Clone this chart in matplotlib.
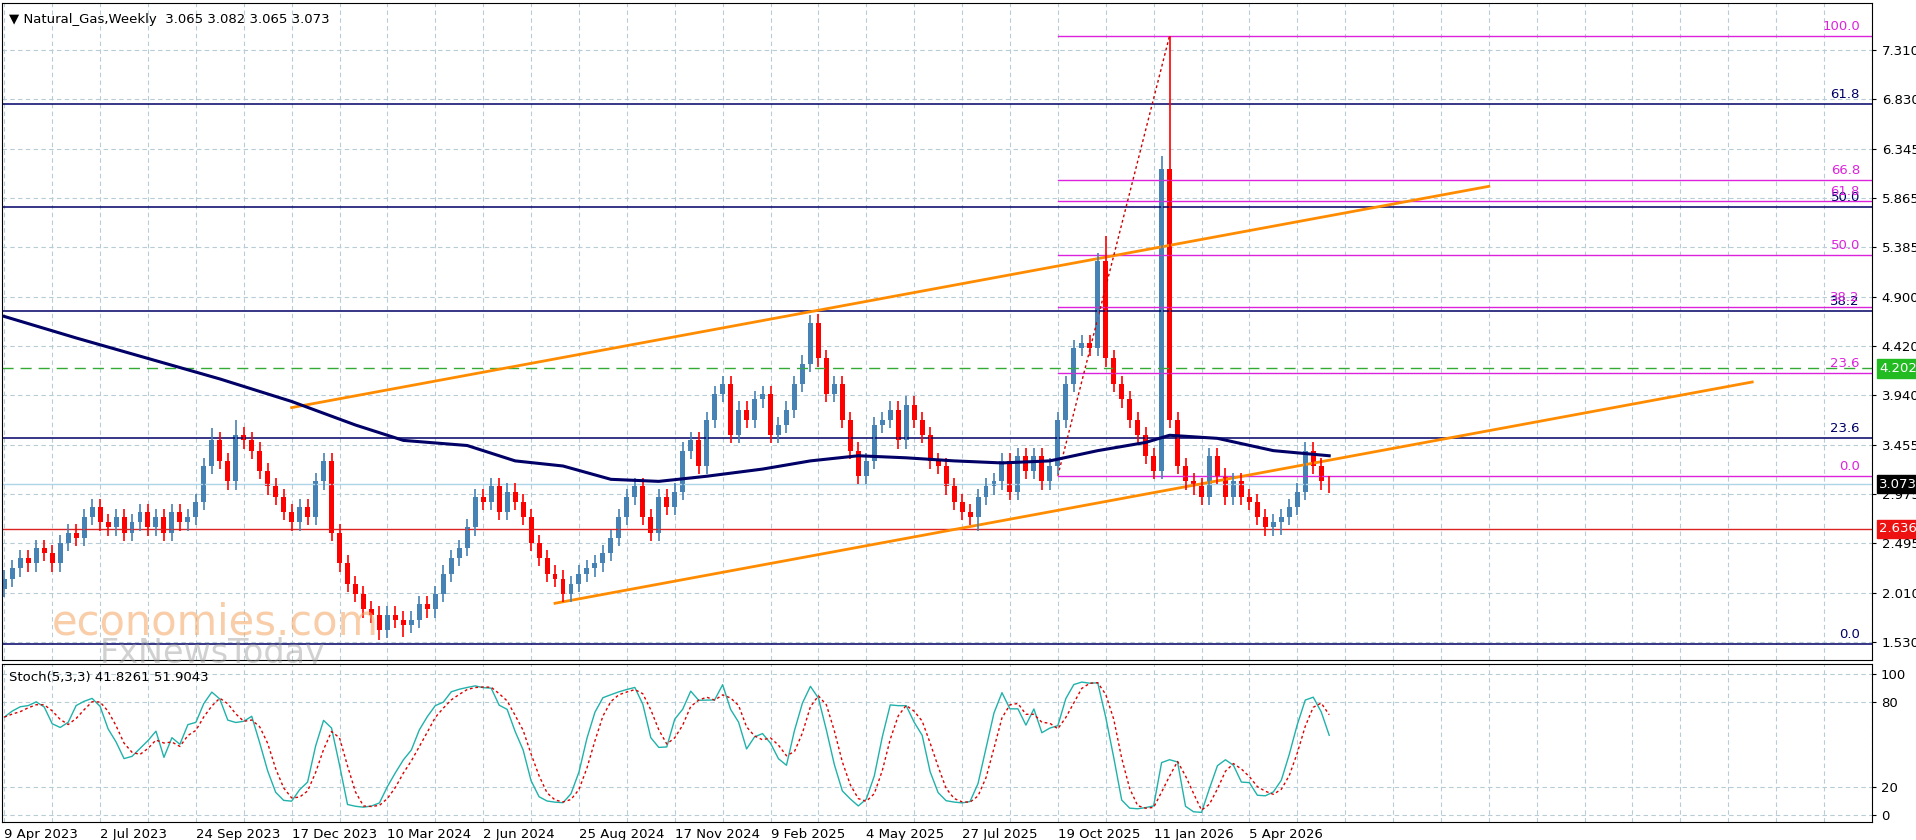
import matplotlib
matplotlib.use("Agg")
import matplotlib.pyplot as plt
import numpy as np
import pandas as pd

# weekly closes
closes = [
    2.15, 2.25, 2.35, 2.30, 2.45, 2.40, 2.30, 2.50, 2.60, 2.55,
    2.75, 2.85, 2.70, 2.65, 2.75, 2.60, 2.70, 2.80,
    2.65, 2.75, 2.60, 2.80, 2.70, 2.75,
    2.90, 3.25, 3.50, 3.30, 3.10, 3.55, 3.50,
    3.40, 3.20, 3.05, 2.95, 2.80, 2.70, 2.85, 2.75,
    3.10, 3.30, 2.60, 2.30, 2.10, 2.00, 1.85, 1.80,
    1.65, 1.80, 1.75, 1.70, 1.75,
    1.90, 1.85, 2.00, 2.20, 2.35, 2.45, 2.65,
    2.95, 2.90, 3.05, 2.80, 3.00, 2.90, 2.75,
    2.50, 2.35, 2.20, 2.15, 2.00, 2.10,
    2.20, 2.25, 2.30, 2.40, 2.55, 2.75,
    2.95, 3.05, 2.75, 2.60, 2.95, 2.85, 3.00,
    3.40, 3.50, 3.25, 3.70, 3.95, 4.05, 3.55, 3.80,
    3.70, 3.90, 3.95, 3.55, 3.65, 3.80, 4.05, 4.25,
    4.65, 4.30, 3.95, 4.05, 3.70,
    3.40, 3.15, 3.30, 3.65, 3.70,
    3.80, 3.50, 3.85, 3.70, 3.55, 3.30, 3.25,
    3.05, 2.90, 2.80, 2.75, 2.95,
    3.05, 3.10, 3.30, 3.00, 3.35, 3.20,
    3.35, 3.10, 3.25,
    3.70, 4.05, 4.40, 4.45, 4.40, 5.25,
    4.30, 4.05, 3.90, 3.70, 3.55, 3.35, 3.20,
    6.15, 3.70,
    3.25, 3.10, 3.05, 2.95, 3.35, 3.15, 2.95, 3.10, 2.95, 2.90,
    2.75, 2.65, 2.70, 2.75, 2.85, 3.00, 3.40, 3.25, 3.10, 3.065,
]
first_open = 2.05
last_open = 3.073
wick = 0.08
high_override = {146: 7.45, 145: 6.28, 138: 5.50, 101: 4.72, 29: 3.70, 26: 3.62}
low_override = {47: 1.55, 50: 1.58, 122: 2.62, 160: 2.58}

# 52-week moving average, sampled off the chart (bar index, value)
ma_idx = [0, 9, 18, 27, 36, 44, 50, 58, 64, 70, 76, 82, 88, 95, 101, 107, 113,
          119, 125, 131, 137, 143, 146, 152, 159, 166]
ma_val = [4.71, 4.50, 4.30, 4.10, 3.88, 3.65, 3.50, 3.45, 3.30, 3.25, 3.12, 3.10,
          3.15, 3.22, 3.30, 3.35, 3.33, 3.30, 3.28, 3.30, 3.40, 3.48, 3.55, 3.52,
          3.40, 3.35]

date_labels = ["9 Apr 2023", "2 Jul 2023", "24 Sep 2023", "17 Dec 2023", "10 Mar 2024",
               "2 Jun 2024", "25 Aug 2024", "17 Nov 2024", "9 Feb 2025", "4 May 2025",
               "27 Jul 2025", "19 Oct 2025", "11 Jan 2026", "5 Apr 2026"]
price_ticks = [7.310, 6.830, 6.345, 5.865, 5.385, 4.900, 4.420, 3.940, 3.455,
               2.975, 2.495, 2.010, 1.530]

navy_levels = [6.78, 5.78, 4.76, 3.52, 1.51]
navy_labels = ["61.8", "50.0", "38.2", "23.6", "0.0"]
fib_levels = [7.45, 6.04, 5.84, 5.31, 4.80, 4.16, 3.155]
fib_labels = ["100.0", "66.8", "61.8", "50.0", "38.2", "23.6", "0.0"]
fib_start = 132
upper_channel = ([36, 186], [3.82, 5.98])
lower_channel = ([69, 219], [1.91, 4.07])
support, resistance, current = 2.636, 4.202, 3.073
stoch_text = "Stoch(5,3,3) 41.8261 51.9043"

n = len(closes)
opens = [first_open] + closes[:-1]
opens[-1] = last_open
highs = [high_override.get(i, max(o, c) + wick) for i, (o, c) in enumerate(zip(opens, closes))]
lows = [low_override.get(i, min(o, c) - wick) for i, (o, c) in enumerate(zip(opens, closes))]

fig = plt.figure(figsize=(19.16, 8.4), dpi=100)
ax = fig.add_axes([0.001, 0.214, 0.976, 0.782])
ax2 = fig.add_axes([0.001, 0.021, 0.976, 0.188], sharex=ax)

navy = "#000066"
mag = "#DD22DD"

ax.set_yticks(price_ticks)
ax.grid(True, color="#B8CCD8", linestyle=(0, (4, 3)), linewidth=0.8)
ax.set_axisbelow(True)
ax.set_xticks(np.arange(0, 240, 6))
ax.tick_params(axis="x", length=0, labelbottom=False)
ax.yaxis.tick_right()
ax.tick_params(axis="y", length=3, labelsize=9.5, pad=4)
ax.set_yticklabels([f"{t:.3f}" for t in price_ticks])

for lvl in navy_levels:
    ax.axhline(lvl, color=navy, lw=1.1)
for lvl, lab in zip(navy_levels, navy_labels):
    ax.text(232.5, lvl + 0.03, lab, color=navy, ha="right", va="bottom", fontsize=9.5)
for lvl, lab in zip(fib_levels, fib_labels):
    ax.plot([fib_start, 240], [lvl, lvl], color=mag, lw=1.0)
    ax.text(232.5, lvl + 0.03, lab, color=mag, ha="right", va="bottom", fontsize=9.5)

ax.axhline(resistance, color="#33AA33", lw=1.0, linestyle=(0, (8, 5)))
ax.axhline(support, color="#DD2222", lw=1.0)
ax.axhline(current, color="#AED6E8", lw=1.0)

ax.plot(*upper_channel, color="#FF8C00", lw=2)
ax.plot(*lower_channel, color="#FF8C00", lw=2)
ax.plot([fib_start, 146], [fib_levels[-1], fib_levels[0]], color="#CC0000", lw=1, linestyle=(0, (2, 2)))

for i in range(n):
    o, c = opens[i], closes[i]
    col = "#4682B4" if c >= o else "#FF0000"
    ax.vlines(i, lows[i], highs[i], color=col, lw=1.2)
    body = max(abs(c - o), 0.012)
    ax.bar(i, body, bottom=min(o, c), width=0.62, color=col, edgecolor=col, lw=0)

ax.plot(ma_idx, ma_val, color=navy, lw=2.2)

ax.set_xlim(-0.3, 233)
ax.set_ylim(1.354, 7.766)

for lvl, bg in ((resistance, "#22BB22"), (current, "black"), (support, "#EE1111")):
    ax.text(1.004, lvl, f"{lvl:.3f}", transform=ax.get_yaxis_transform(), color="white",
            fontsize=9.5, va="center", ha="left",
            bbox=dict(boxstyle="square,pad=0.2", fc=bg, ec=bg))

ax.text(0.004, 0.985, "\u25bc Natural_Gas,Weekly  3.065 3.082 3.065 3.073", transform=ax.transAxes,
        fontsize=9.5, va="top", ha="left")
ax.text(6, 1.72, "economies.com", color="#F4A460", alpha=0.55, fontsize=30, va="center")
ax.text(12, 1.42, "FxNewsToday", color="#999999", alpha=0.45, fontsize=24, va="center")

# stochastic (5,3,3) from the candles
df = pd.DataFrame({"h": highs, "l": lows, "c": closes})
hh = df["h"].rolling(5, min_periods=1).max()
ll = df["l"].rolling(5, min_periods=1).min()
k = (100 * (df["c"] - ll) / (hh - ll)).rolling(3, min_periods=1).mean()
d = k.rolling(3, min_periods=1).mean()
ax2.plot(range(n), k, color="#20B2AA", lw=1.0)
ax2.plot(range(n), d, color="#DD0000", lw=1.0, linestyle=(0, (2, 2)))
ax2.set_ylim(-5.3, 106.5)
ax2.set_yticks([0, 20, 80, 100])
ax2.yaxis.tick_right()
ax2.tick_params(axis="y", length=3, labelsize=9.5)
ax2.grid(True, color="#B8CCD8", linestyle=(0, (4, 3)), linewidth=0.8)
ax2.set_xticks(np.arange(0, 240, 6))
ax2.tick_params(axis="x", length=0, labelbottom=False)
ax2.text(0.004, 0.96, stoch_text, transform=ax2.transAxes, fontsize=9.5, va="top", ha="left")
for j, lab in enumerate(date_labels):
    ax2.text(j * 12, -9, lab, fontsize=9.5, ha="left", va="top")

fig.savefig("out.png", dpi=100)
